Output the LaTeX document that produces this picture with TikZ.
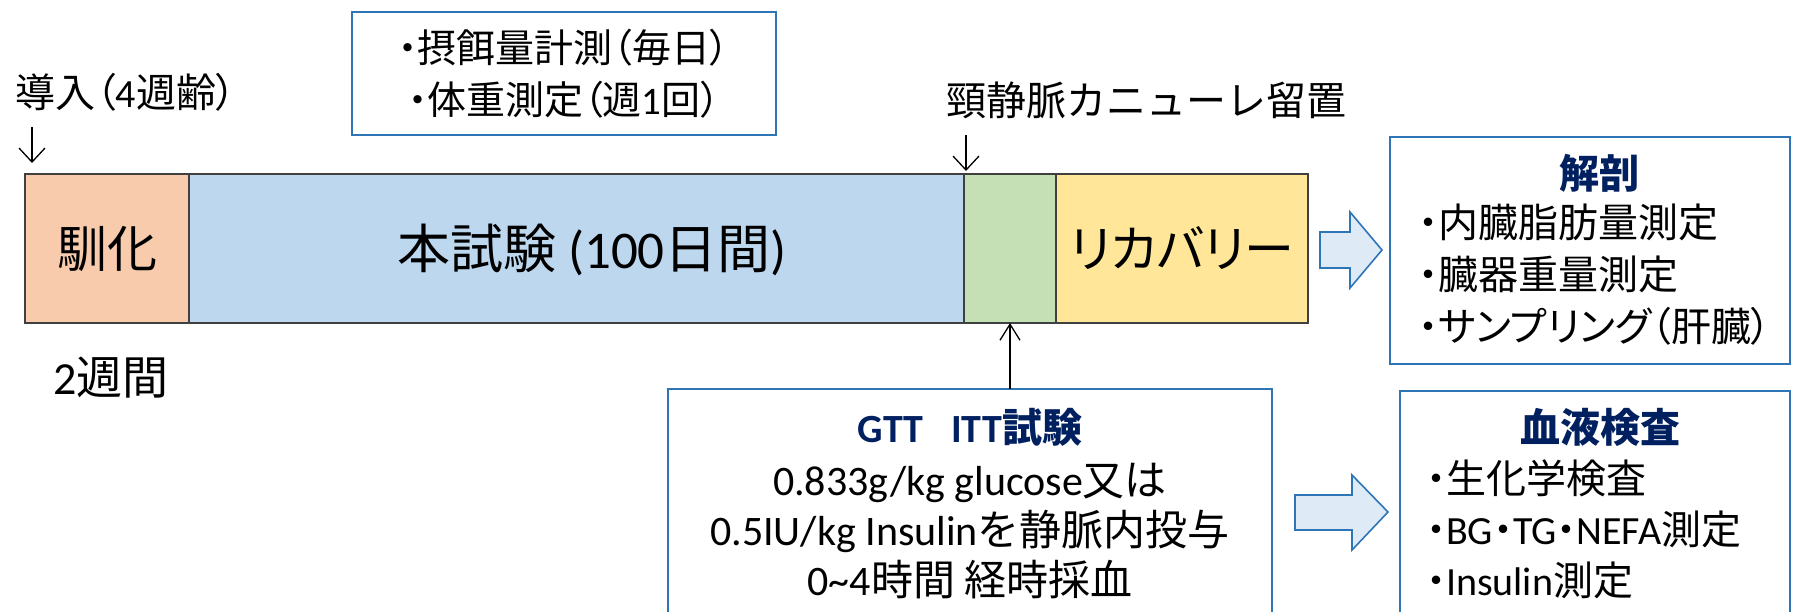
\documentclass[tikz,border=0pt]{standalone}
\usepackage{fontspec}
\setmainfont{Carlito}
\newfontfamily\jp{Noto Sans CJK JP}
\newfontfamily\jpp{Noto Sans CJK JP}[RawFeature=+palt]
\usetikzlibrary{arrows.meta}
\definecolor{accF}{HTML}{F8CBAD}
\definecolor{mainF}{HTML}{BDD7EE}
\definecolor{gttF}{HTML}{C5E0B4}
\definecolor{recF}{HTML}{FFE699}
\definecolor{boxB}{HTML}{2E75B6}
\definecolor{navy}{HTML}{002060}
\definecolor{arrF}{HTML}{DEEBF7}
\newcommand\fs[1]{\fontsize{#1}{#1}\selectfont}
\begin{document}
\begin{tikzpicture}[x=1pt,y=-1pt,
  seg/.style={draw=black!75, line width=1.2pt, inner sep=0pt, outer sep=0pt, minimum height=149pt},
  bbox/.style={draw=boxB, line width=1.6pt, fill=white, inner sep=0pt, outer sep=0pt},
  lbl/.style={inner sep=0pt, outer sep=0pt, text=black},
  ttl/.style={inner sep=0pt, outer sep=0pt, text=navy},
  marker/.style={line width=1.3pt, -{Straight Barb[length=14pt,width=26pt,line width=1.3pt]}},
  blk/.style={draw=boxB, line width=1.6pt, fill=arrF, line join=miter}
]
\useasboundingbox (0,0) rectangle (1794,611);
\clip (0,0) rectangle (1794,611);

% timeline bar
\node[seg, fill=accF, minimum width=164pt] (acc) at (107,248.5) {\fs{50}\jp 馴化};
\node[seg, fill=mainF, minimum width=775pt] (main) at (576.5,248.5) {};
\node[lbl, font=\fs{53}] (mainT) at (592,250) {{\jp 本試験} (100{\jp 日間})};
\node[seg, fill=gttF, minimum width=92pt] (gtt) at (1010,248.5) {};
\node[seg, fill=recF, minimum width=252pt] (rec) at (1182,248.5) {\fs{50}\jpp リカバリー};

% labels above
\node[lbl, font=\fs{40}] (intro) at (126,92) {{\jpp 導入（}4{\jpp 週齢）}};
\coordinate (introA) at (32,127);
\coordinate (introB) at (32,163);
\draw[marker] (introA) -- (introB);

\node[bbox, minimum width=424pt, minimum height=123pt, align=center,
      font=\fontsize{39}{52}\selectfont] (feed) at (564,73.5)
  {{\jpp ・}{\jp 摂餌量計測}{\jpp （}{\jp 毎日}{\jpp ）}\\
   {\jpp ・}{\jp 体重測定}{\jpp （}{\jp 週}1{\jp 回}{\jpp ）}};

\node[lbl, font=\fs{40}] (cann) at (1146,100) {\jp 頸静脈カニューレ留置};
\coordinate (cannA) at (966,135);
\coordinate (cannB) at (966,171);
\draw[marker] (cannA) -- (cannB);

\node[lbl, font=\fs{46}] (dur) at (111,378) {2{\jp 週間}};

% dissection box
\node[bbox, minimum width=400pt, minimum height=227pt] (dis) at (1590,250.5) {};
\node[ttl, font=\fs{40}\jp\bfseries] (disT) at (1599,173) {解剖};
\node[lbl, anchor=west, align=left, font=\fontsize{40}{52}\selectfont] (dL) at (1418,275)
  {{\jpp ・}{\jp 内臓脂肪量測定}\\
   {\jpp ・}{\jp 臓器重量測定}\\
   {\jpp ・サンプリング（}{\jp 肝臓}{\jpp ）}};

\draw[blk] (1320,232) -- (1350,232) -- (1350,212) -- (1382,250) -- (1350,288) -- (1350,268) -- (1320,268) -- cycle;

% GTT box
\node[bbox, minimum width=604pt, minimum height=260pt, anchor=north] (gttbox) at (970,389) {};
\node[lbl, align=center, font=\fontsize{42}{50}\selectfont] (gL) at (970,503.5)
  {{\color{navy}\fs{40}\bfseries GTT\hspace{28pt}ITT{\jp 試験}}\\[3pt]
   0.833g/kg glucose{\jp 又は}\\
   0.5IU/kg Insulin{\jp を静脈内投与}\\
   0\textasciitilde4{\jp 時間 経時採血}};
\draw[line width=1.3pt, -{Straight Barb[length=16pt,width=20pt,line width=1.3pt]}]
  (gtt.south |- gttbox.north) -- (gtt.south);

\draw[blk] (1295,495) -- (1352,495) -- (1352,475) -- (1388,512) -- (1352,550) -- (1352,530) -- (1295,530) -- cycle;

% blood box
\node[bbox, minimum width=390pt, minimum height=260pt, anchor=north west] (blood) at (1400,391) {};
\node[ttl, font=\fs{40}\jp\bfseries] (bT) at (1600,427) {血液検査};
\node[lbl, anchor=west, align=left, font=\fontsize{40}{51}\selectfont] (bL) at (1426,529)
  {{\jpp ・}{\jp 生化学検査}\\
   {\jpp ・}BG{\jpp ・}TG{\jpp ・}NEFA{\jp 測定}\\
   {\jpp ・}Insulin{\jp 測定}};
\end{tikzpicture}
\end{document}
